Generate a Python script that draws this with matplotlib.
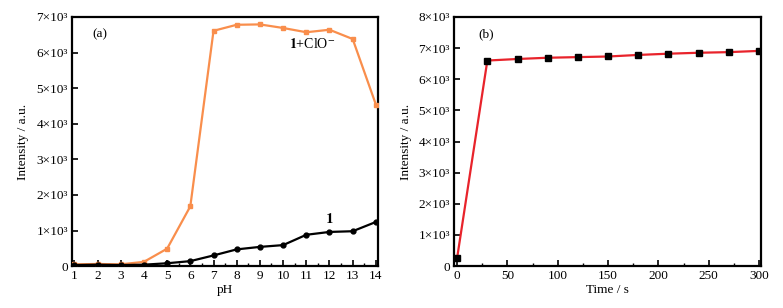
import matplotlib
matplotlib.use("Agg")
import matplotlib.pyplot as plt
from matplotlib.ticker import MultipleLocator, FuncFormatter

plt.rcParams['font.family'] = ['Liberation Serif', 'DejaVu Serif']
plt.rcParams['font.size'] = 9

# panel (a): intensity vs pH
ph = [1, 2, 3, 4, 5, 6, 7, 8, 9, 10, 11, 12, 13, 14]
probe_clo = [50, 60, 50, 120, 490, 1680, 6610, 6780, 6790, 6690, 6570, 6640, 6380, 4540]
probe = [30, 40, 30, 40, 80, 140, 300, 470, 540, 590, 880, 960, 980, 1240]

# panel (b): intensity vs time
time_s = [0, 30, 60, 90, 120, 150, 180, 210, 240, 270, 300]
intensity_t = [270, 6600, 6650, 6690, 6710, 6730, 6780, 6820, 6850, 6870, 6910]

orange = '#F98E4C'
red = '#E8232B'


def sci_fmt(v, pos):
    if v == 0:
        return '0'
    return f'{v / 1000:.0f}×10³'


def style_ax(ax):
    for s in ax.spines.values():
        s.set_linewidth(1.6)
    ax.tick_params(which='both', direction='in', top=False, right=False, labelsize=9.5)
    ax.tick_params(which='major', length=4, width=1.2, pad=3)
    ax.tick_params(which='minor', length=2, width=1.0)
    ax.yaxis.set_major_formatter(FuncFormatter(sci_fmt))
    ax.set_ylabel('Intensity / a.u.', fontsize=9.5, labelpad=5)


fig = plt.figure(figsize=(7.83, 3.08), dpi=100)
ax1 = fig.add_axes([0.092, 0.136, 0.391, 0.809])
ax2 = fig.add_axes([0.580, 0.136, 0.392, 0.809])

ax1.plot(ph, probe_clo, color=orange, lw=1.6, marker='s', ms=3.2, zorder=3)
ax1.plot(ph, probe, color='black', lw=1.6, marker='o', ms=3.5, zorder=3)
ax1.set_xlim(0.9, 14.1)
ax1.set_ylim(0, 7000)
ax1.xaxis.set_major_locator(MultipleLocator(1))
ax1.xaxis.set_minor_locator(MultipleLocator(0.5))
ax1.yaxis.set_major_locator(MultipleLocator(1000))
ax1.set_xlabel('pH', fontsize=9.5, labelpad=1)
style_ax(ax1)
ax1.text(0.065, 0.93, '(a)', transform=ax1.transAxes, ha='left', va='center', fontsize=9.5)
ax1.text(0.785, 0.89, r'$\mathbf{1}$+ClO$^{-}$', transform=ax1.transAxes,
         ha='center', va='center', fontsize=10, math_fontfamily='stix')
ax1.text(12.0, 1330, r'$\mathbf{1}$', ha='center', va='center', fontsize=11,
         math_fontfamily='stix')

ax2.plot(time_s, intensity_t, color=red, lw=1.6, marker='s', ms=4.2,
         mfc='black', mec='black', zorder=3)
ax2.set_xlim(-3, 302)
ax2.set_ylim(0, 8000)
ax2.xaxis.set_major_locator(MultipleLocator(50))
ax2.xaxis.set_minor_locator(MultipleLocator(25))
ax2.yaxis.set_major_locator(MultipleLocator(1000))
ax2.set_xlabel('Time / s', fontsize=9.5, labelpad=1)
style_ax(ax2)
ax2.text(0.08, 0.93, '(b)', transform=ax2.transAxes, ha='left', va='center', fontsize=9.5)

fig.savefig('out.png', dpi=100)
